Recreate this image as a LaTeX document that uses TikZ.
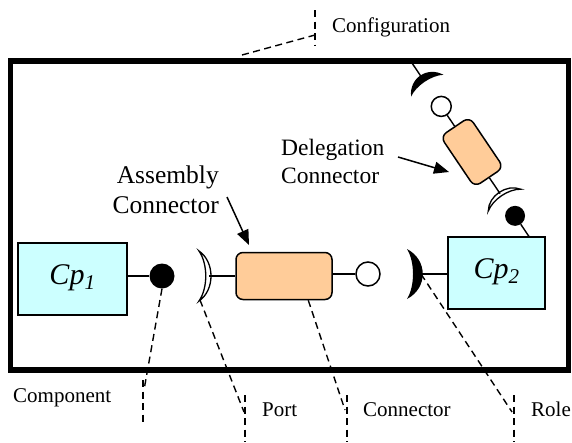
\documentclass[tikz,border=0pt]{standalone}
\usepackage{fontspec}
\setmainfont{Liberation Serif}
\usepackage{xcolor}
\usetikzlibrary{arrows.meta}
\definecolor{compfill}{HTML}{CCFFFF}
\definecolor{connfill}{HTML}{FFCC99}
\tikzset{
  comp/.style={draw=black, fill=compfill, line width=1.6pt, minimum width=#1, minimum height=72pt,
    inner sep=0pt, text height=20pt, text depth=10pt, font=\fontsize{30}{34}\selectfont\itshape},
  comp/.default=100pt,
  conn/.style={draw=black, fill=connfill, line width=1.5pt, rounded corners=7pt, inner sep=0pt},
  ball/.style={circle, fill=black, inner sep=0pt, minimum size=#1},
  sock/.style={circle, draw=black, fill=white, line width=1.5pt, inner sep=0pt, minimum size=#1},
  wire/.style={draw=black, line width=1.4pt},
  lead/.style={draw=black, line width=1.4pt, dash pattern=on 7pt off 4.5pt},
  point/.style={draw=black, line width=1.5pt, -{Triangle[length=15pt,width=12pt]}},
  lab/.style={inner sep=0pt, font=\fontsize{21}{25}\selectfont},
  note/.style={inner sep=0pt, font=\fontsize{25.5}{30}\selectfont},
  notesm/.style={inner sep=0pt, font=\fontsize{23.5}{28}\selectfont},
  portcup/.pic={
    \path[draw=black, fill=white, line width=1.3pt] (0,-25) .. controls (16,-14) and (16,14) .. (0,25)
      .. controls (9,12) and (9,-12) .. (0,-25) -- cycle;
    \coordinate (-tip) at (10,0);
    \coordinate (-low) at (1,24);
  },
  rolecup/.pic={
    \fill[black] (0,-25) .. controls (21,-14) and (21,14) .. (0,25)
      .. controls (8,12) and (8,-12) .. (0,-25) -- cycle;
    \coordinate (-tip) at (14,0);
  },
}

\begin{document}
\begin{tikzpicture}[x=1pt,y=-1pt]
  \useasboundingbox (0,0) rectangle (572,442);
  % configuration frame
  \draw[line width=5.5pt] (10.5,61) rectangle (568.5,370);

  % delegation chain, along its own axis
  \begin{scope}[shift={(472,152)}, rotate=-56]
    \coordinate (dtop) at (-112,0);
    \coordinate (dbot) at (104,0);
    \node[conn, minimum width=61pt, minimum height=35pt, rotate=-56] (dlg) at (0,0) {};
    \node[ball=20pt] (ball2) at (77,0) {};
    \node[sock=20pt] (sock2) at (-55,0) {};
    \pic[rotate=124, scale=0.78] (dprt) at (58,0) {portcup};
    \pic[rotate=124, scale=0.78] (drol) at (-80,0) {rolecup};
  \end{scope}
  \draw[wire] (dbot) -- (ball2);
  \draw[wire] (dprt-tip) -- (dlg);
  \draw[wire] (dlg) -- (sock2);
  \draw[wire] (drol-tip) -- (dtop);

  % assembly row
  \node[comp=109pt] (cp1) at (72.5,279) {Cp\textsubscript{1}};
  \node[comp=97pt] (cp2) at (496.5,273) {Cp\textsubscript{2}};
  \node[ball=25pt] (ball1) at (162,276) {};
  \pic (prt) at (199,276) {portcup};
  \node[conn, minimum width=96pt, minimum height=47pt] (asm) at (284,276) {};
  \node[sock=24pt] (sock1) at (368,274) {};
  \pic (rol) at (407,274) {rolecup};
  \draw[wire] (cp1.east |- ball1) -- (ball1);
  \draw[wire] (prt-tip) -- (prt-tip -| asm.west);
  \draw[wire] (asm.east |- sock1) -- (sock1);
  \draw[wire] (rol-tip) -- (rol-tip -| cp2.west);

  % connector notes
  \node[note, align=right, anchor=east] (asmlab) at (219,190) {Assembly\\Connector};
  \node[notesm, align=left, anchor=west] (dlglab) at (281,161) {Delegation\\Connector};
  \coordinate (asmA) at (227,197);
  \coordinate (asmB) at (249,245);
  \coordinate (dlgA) at (398,157);
  \coordinate (dlgB) at (449,172);
  \draw[point] (asmA) -- (asmB);
  \draw[point] (dlgA) -- (dlgB);

  % callouts
  \node[lab, anchor=base west] (cfglab) at (332,32) {Configuration};
  \node[lab, anchor=base west] (cmplab) at (13,402) {Component};
  \node[lab, anchor=base west] (prtlab) at (262,416) {Port};
  \node[lab, anchor=base west] (cnrlab) at (363,416) {Connector};
  \node[lab, anchor=base west] (rollab) at (531,416) {Role};
  \foreach \n/\x/\ya/\yb in {cfg/315/10/45, cmp/143/380/425, prt/245/395/442, cnr/347/395/442, rol/514/395/442} {
    \coordinate (\n T) at (\x,\ya);
    \coordinate (\n B) at (\x,\yb);
    \draw[lead] (\n T) -- (\n B);
  }
  \coordinate (cfgS) at (242,55);
  \coordinate (cfgE) at (315,35);
  \coordinate (cmpE) at (144,390);
  \coordinate (prtE) at (244,412);
  \coordinate (cnrE) at (345,410);
  \coordinate (rolE) at (512,412);
  \draw[lead] (cfgS) -- (cfgE);
  \draw[lead] (ball1.south) -- (cmpE);
  \draw[lead] (prt-low) -- (prtE);
  \draw[lead] (asm.-45) -- (cnrE);
  \draw[lead] (rol-tip) -- (rolE);
\end{tikzpicture}
\end{document}
